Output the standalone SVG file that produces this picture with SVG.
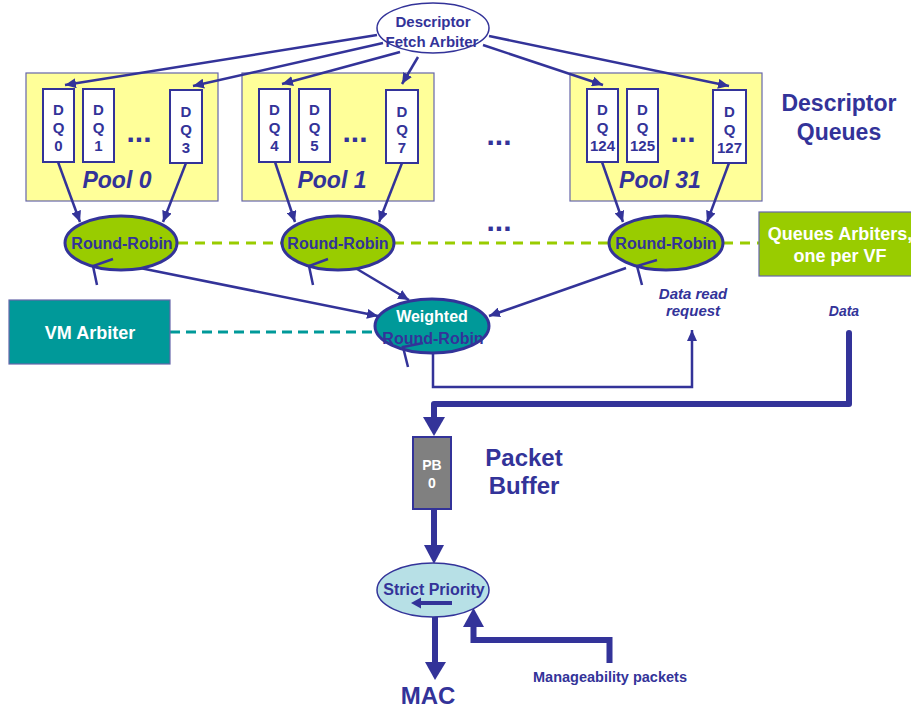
<svg xmlns="http://www.w3.org/2000/svg" width="911" height="709" viewBox="0 0 911 709">
<defs>
<style>
text{font-family:"Liberation Sans",Arial,sans-serif;font-weight:bold;text-anchor:middle;fill:#333399}
.pool{fill:#FFFF99;stroke:#6666AA;stroke-width:1.2}
.dq{fill:#FFFFFF;stroke:#333399;stroke-width:2}
.dqt{font-size:15px}
.pl{font-size:23px;font-style:italic}
.dots{font-size:30px}
.rr{fill:#99CC00;stroke:#333399;stroke-width:3}
.rrt{font-size:16px}
.tick{fill:none;stroke:#333399;stroke-width:2.5}
.ln{fill:none;stroke:#333399;stroke-width:2.5}
.arr{marker-end:url(#ah)}
.thick{fill:none;stroke:#333399;stroke-width:6}
.head{fill:#333399}
.gd{stroke:#99CC00;stroke-width:3;stroke-dasharray:10 7;fill:none}
.td{stroke:#009999;stroke-width:3;stroke-dasharray:10 6;fill:none}
.wt{fill:#FFFFFF}
</style>
<marker id="ah" markerUnits="userSpaceOnUse" markerWidth="11" markerHeight="10" refX="11" refY="5" orient="auto">
<path d="M0,0 L11,5 L0,10 z" fill="#333399"/>
</marker>
</defs>

<g id="pool0">
<rect class="pool" x="26" y="73" width="192" height="128"/>
<rect class="dq" x="43" y="89" width="31" height="73"/>
<text class="dqt" x="58.5" y="115">D</text><text class="dqt" x="58.5" y="133">Q</text><text class="dqt" x="58.5" y="151">0</text>
<rect class="dq" x="83" y="89" width="31" height="73"/>
<text class="dqt" x="98.5" y="115">D</text><text class="dqt" x="98.5" y="133">Q</text><text class="dqt" x="98.5" y="151">1</text>
<text class="dots" x="139" y="142">...</text>
<rect class="dq" x="170" y="90" width="32" height="73"/>
<text class="dqt" x="186" y="117">D</text><text class="dqt" x="186" y="135">Q</text><text class="dqt" x="186" y="153">3</text>
<text class="pl" x="117" y="188">Pool 0</text>
</g>

<g id="pool1">
<rect class="pool" x="242" y="73" width="192" height="128"/>
<rect class="dq" x="259" y="89" width="31" height="73"/>
<text class="dqt" x="274.5" y="115">D</text><text class="dqt" x="274.5" y="133">Q</text><text class="dqt" x="274.5" y="151">4</text>
<rect class="dq" x="299" y="89" width="31" height="73"/>
<text class="dqt" x="314.5" y="115">D</text><text class="dqt" x="314.5" y="133">Q</text><text class="dqt" x="314.5" y="151">5</text>
<text class="dots" x="355" y="142">...</text>
<rect class="dq" x="386" y="90" width="32" height="73"/>
<text class="dqt" x="402" y="117">D</text><text class="dqt" x="402" y="135">Q</text><text class="dqt" x="402" y="153">7</text>
<text class="pl" x="332" y="188">Pool 1</text>
</g>

<text class="dots" x="499" y="145">...</text>

<g id="pool31">
<rect class="pool" x="570" y="73" width="192" height="128"/>
<rect class="dq" x="587" y="89" width="31" height="73"/>
<text class="dqt" x="602.5" y="115">D</text><text class="dqt" x="602.5" y="133">Q</text><text class="dqt" x="602.5" y="151">124</text>
<rect class="dq" x="627" y="89" width="31" height="73"/>
<text class="dqt" x="642.5" y="115">D</text><text class="dqt" x="642.5" y="133">Q</text><text class="dqt" x="642.5" y="151">125</text>
<text class="dots" x="683" y="142">...</text>
<rect class="dq" x="713" y="90" width="33" height="73"/>
<text class="dqt" x="729.5" y="117">D</text><text class="dqt" x="729.5" y="135">Q</text><text class="dqt" x="729.5" y="153">127</text>
<text class="pl" x="660" y="188">Pool 31</text>
</g>

<g id="descriptor-queues-label">
<text x="839" y="111" style="font-size:23px">Descriptor</text>
<text x="839" y="140" style="font-size:23px">Queues</text>
</g>

<g id="dashes">
<line class="gd" x1="178" y1="243" x2="282" y2="243"/>
<line class="gd" x1="394" y1="243" x2="609" y2="243"/>
<line class="gd" x1="723" y1="243" x2="760" y2="243"/>
<line class="td" x1="170" y1="332" x2="376" y2="332"/>
</g>

<text class="dots" x="499" y="231">...</text>

<g id="connectors">
<line class="ln arr" x1="377" y1="35" x2="65" y2="85"/>
<line class="ln arr" x1="383" y1="43" x2="193" y2="86"/>
<line class="ln arr" x1="400" y1="52" x2="282" y2="84"/>
<line class="ln arr" x1="418" y1="57" x2="402" y2="84"/>
<line class="ln arr" x1="483" y1="45" x2="603" y2="85"/>
<line class="ln arr" x1="489" y1="36" x2="729" y2="86"/>
<line class="ln arr" x1="58" y1="162" x2="80" y2="222"/>
<line class="ln arr" x1="186" y1="163" x2="163" y2="222"/>
<line class="ln arr" x1="275" y1="162" x2="295" y2="222"/>
<line class="ln arr" x1="402" y1="163" x2="379" y2="222"/>
<line class="ln arr" x1="602" y1="162" x2="623" y2="222"/>
<line class="ln arr" x1="729" y1="163" x2="707" y2="222"/>
<line class="ln arr" x1="140" y1="268" x2="378" y2="316"/>
<line class="ln arr" x1="357" y1="269" x2="409" y2="300"/>
<line class="ln arr" x1="626" y1="268" x2="489" y2="316"/>
<polyline class="ln arr" points="433,353 433,387 692,387 692,330"/>
<polyline class="thick" points="849,333 849,404 434,404 434,419" style="stroke-linejoin:round;stroke-linecap:round"/>
<polygon class="head" points="423,417 445,417 434,436"/>
<line class="thick" x1="434" y1="509" x2="434" y2="547"/>
<polygon class="head" points="424,545 444,545 434,564"/>
<line class="thick" x1="435" y1="616" x2="435" y2="664"/>
<polygon class="head" points="425,662 446,662 435,680"/>
<polyline class="thick" points="609.5,663 609.5,640 473.5,640 473.5,624"/>
<polygon class="head" points="463,627 484,627 473.5,608"/>
</g>

<g id="dfa">
<ellipse cx="433" cy="28" rx="56" ry="25" fill="#FFFFFF" stroke="#333399" stroke-width="1.5"/>
<text x="433" y="27" style="font-size:15px">Descriptor</text>
<text x="432" y="47" style="font-size:15px">Fetch Arbiter</text>
</g>

<g id="rr0">
<ellipse class="rr" cx="121" cy="243" rx="56" ry="27"/>
<text class="rrt" x="122" y="249">Round-Robin</text>
<polyline class="tick" points="113,259 93,266 97,285"/>
</g>
<g id="rr1">
<ellipse class="rr" cx="338" cy="243" rx="56" ry="27"/>
<text class="rrt" x="338" y="249">Round-Robin</text>
<polyline class="tick" points="328,259 309,266 313,285"/>
</g>
<g id="rr31">
<ellipse class="rr" cx="666" cy="243" rx="57" ry="27"/>
<text class="rrt" x="666" y="249">Round-Robin</text>
<polyline class="tick" points="657,260 637,266 642,285"/>
</g>

<g id="queues-arbiters">
<rect x="759" y="212" width="162" height="64" fill="#99CC00" stroke="#6666AA" stroke-width="1.2"/>
<text class="wt" x="840" y="240" style="font-size:18px">Queues Arbiters,</text>
<text class="wt" x="840" y="262" style="font-size:18px">one per VF</text>
</g>

<g id="vm-arbiter">
<rect x="9" y="300" width="161" height="64" fill="#009999" stroke="#6666AA" stroke-width="1.2"/>
<text class="wt" x="90" y="339" style="font-size:18px">VM Arbiter</text>
</g>

<g id="wrr">
<ellipse cx="432" cy="326" rx="57" ry="27" fill="#009999" stroke="#333399" stroke-width="3"/>
<text class="wt" x="432" y="322" style="font-size:16px">Weighted</text>
<text x="433" y="344" style="font-size:16px">Round-Robin</text>
<polyline class="tick" points="423,343 403,347 408,367"/>
</g>

<g id="data-labels">
<text x="693" y="299" style="font-size:15px;font-style:italic">Data read</text>
<text x="693" y="316" style="font-size:15px;font-style:italic">request</text>
<text x="844" y="316" style="font-size:14px;font-style:italic">Data</text>
</g>

<g id="pb">
<rect x="413" y="437" width="38" height="72" fill="#808080" stroke="#333399" stroke-width="2"/>
<text class="wt" x="432" y="470" style="font-size:14px">PB</text>
<text class="wt" x="432" y="488" style="font-size:14px">0</text>
</g>
<g id="packet-buffer-label">
<text x="524" y="466" style="font-size:24px">Packet</text>
<text x="524" y="494" style="font-size:24px">Buffer</text>
</g>

<g id="strict-priority">
<ellipse cx="433" cy="590" rx="56" ry="27" fill="#B7E0E6" stroke="#333399" stroke-width="1.5"/>
<text x="434" y="595" style="font-size:16px">Strict Priority</text>
<line x1="452" y1="603" x2="419" y2="603" stroke="#333399" stroke-width="4"/>
<polygon class="head" points="421,597.5 421,608.5 411,603"/>
</g>

<g id="mac">
<text x="428" y="704" style="font-size:24px">MAC</text>
</g>
<g id="manageability">
<text x="610" y="682" style="font-size:14.5px">Manageability packets</text>
</g>
</svg>
